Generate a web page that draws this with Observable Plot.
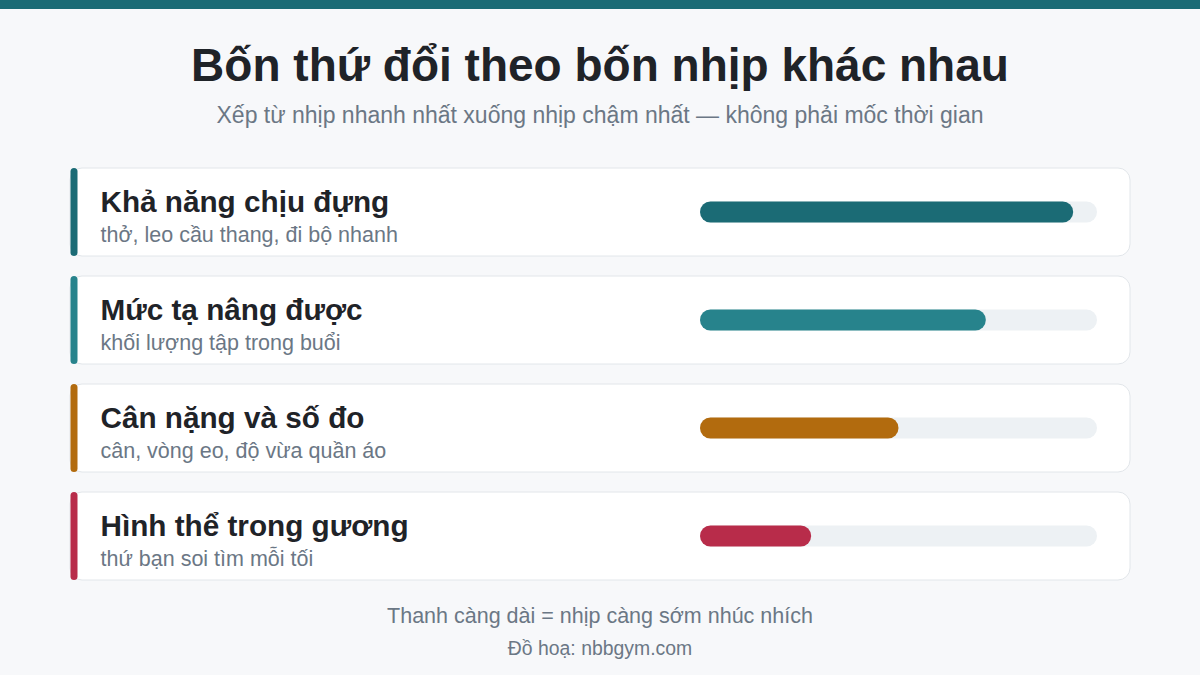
<!DOCTYPE html>
<html lang="vi">
<head>
<meta charset="utf-8">
<script src="https://cdn.jsdelivr.net/npm/d3@7"></script>
<script src="https://cdn.jsdelivr.net/npm/@observablehq/plot@0.6"></script>
<style>
  html, body { margin: 0; padding: 0; }
  body { width: 1200px; height: 675px; background: #f7f8fa; position: relative; overflow: hidden;
         font-family: "Liberation Sans", Arial, Helvetica, sans-serif; }
  #topbar { position: absolute; left: 0; top: 0; width: 1200px; height: 9px; background: #1b6b75; }
  .line { position: absolute; left: 0; width: 1200px; text-align: center; line-height: 1; white-space: nowrap; }
  #title { top: 42px; font-size: 46px; font-weight: bold; color: #1f2328; }
  #subtitle { top: 104px; font-size: 23px; color: #6b7785; }
  #chart { position: absolute; left: 0; top: 160px; width: 1200px; }
  #note { top: 606px; font-size: 21.5px; color: #6b7785; }
  #credit { top: 639px; font-size: 19.4px; color: #6b7785; }
</style>
</head>
<body>
<div id="topbar"></div>
<div id="title" class="line">Bốn thứ đổi theo bốn nhịp khác nhau</div>
<div id="subtitle" class="line">Xếp từ nhịp nhanh nhất xuống nhịp chậm nhất — không phải mốc thời gian</div>
<div id="chart"></div>
<div id="note" class="line">Thanh càng dài = nhịp càng sớm nhúc nhích</div>
<div id="credit" class="line">Đồ hoạ: nbbgym.com</div>
<script>
const categories = ["Khả năng chịu đựng", "Mức tạ nâng được", "Cân nặng và số đo", "Hình thể trong gương"];
const notes = ["thở, leo cầu thang, đi bộ nhanh", "khối lượng tập trong buổi", "cân, vòng eo, độ vừa quần áo", "thứ bạn soi tìm mỗi tối"];
const values = [94, 72, 50, 28];
const colors = ["#1b6b75", "#27838c", "#b26b0e", "#b82c4a"];

const rows = categories.map((c, i) => ({cat: c, note: notes[i], value: values[i]}));

const chart = Plot.plot({
  width: 1200,
  height: 432,
  marginTop: 8,
  marginBottom: 12,
  marginLeft: 700,
  marginRight: 103,
  style: {background: "transparent", fontFamily: "'Liberation Sans', Arial, Helvetica, sans-serif", overflow: "visible"},
  x: {domain: [0, 100], axis: null},
  y: {domain: categories, axis: null, paddingInner: 20 / 108, paddingOuter: 0, round: false},
  color: {domain: categories, range: colors},
  marks: [
    // card backgrounds
    Plot.barX(rows, {x1: 0, x2: 100, y: "cat", insetLeft: -630, insetRight: -33, rx: 12,
      fill: "#ffffff", stroke: "#e2e6ea", strokeWidth: 1}),
    // left accent
    Plot.tickX(rows, {x: 0, y: "cat", dx: -626.5, stroke: "cat", strokeWidth: 7,
      strokeLinecap: "round", insetTop: 3.5, insetBottom: 3.5}),
    // track
    Plot.barX(rows, {x1: 0, x2: 100, y: "cat", fill: "#edf1f4", rx: 10.5, insetTop: 33.5, insetBottom: 33.5}),
    // value bar
    Plot.barX(rows, {x: "value", y: "cat", fill: "cat", rx: 10.5, insetTop: 33.5, insetBottom: 33.5}),
    // labels
    Plot.text(rows, {x: 0, y: "cat", text: "cat", dx: -600, dy: -0.5, textAnchor: "start", lineAnchor: "bottom",
      fontSize: 29.7, fontWeight: "bold", fill: "#1f2328"}),
    Plot.text(rows, {x: 0, y: "cat", text: "note", dx: -600, dy: 29.5, textAnchor: "start", lineAnchor: "bottom",
      fontSize: 21.5, fill: "#6b7785"})
  ]
});
document.getElementById("chart").appendChild(chart);
</script>
</body>
</html>
